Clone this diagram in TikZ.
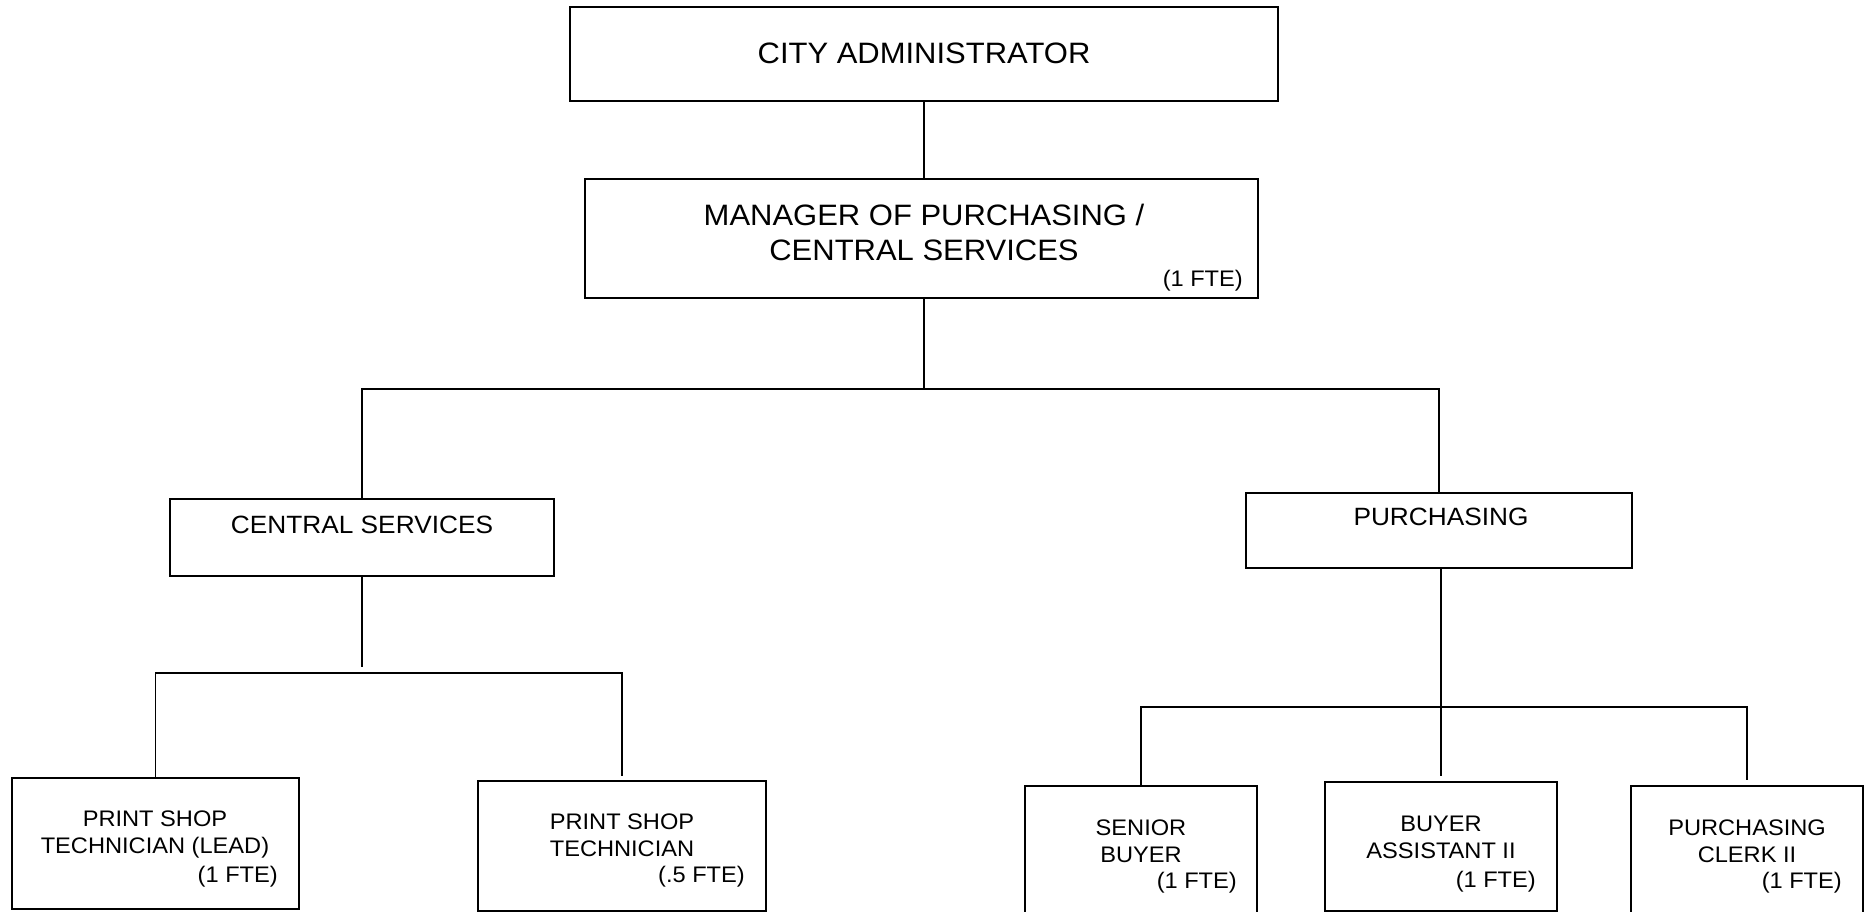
\documentclass[tikz,border=0pt]{standalone}
\usepackage{fontspec}
\setmainfont{Liberation Sans}[FakeStretch=1.05]
\usetikzlibrary{calc}

\begin{document}
\begin{tikzpicture}[x=1pt, y=-1pt,
    box/.style={draw, line width=1.6pt, inner sep=0pt},
    link/.style={line width=1.4pt},
    big/.style={font=\fontsize{29.5}{35}\selectfont, align=center, inner sep=0pt},
    mid/.style={font=\fontsize{25}{29}\selectfont, align=center, inner sep=0pt},
    small/.style={font=\fontsize{22.5}{27}\selectfont, align=center, inner sep=0pt},
    fte/.style={font=\fontsize{22.5}{27}\selectfont, anchor=east, inner sep=0pt}]
    \useasboundingbox (0,0) rectangle (1865,912);
    \clip (0,0) rectangle (1865,912);

    % top two boxes
    \node[box, minimum width=708, minimum height=94] (city) at (924,54) {};
    \node[big] (cityT) at (924,53) {CITY ADMINISTRATOR};
    \node[box, minimum width=673, minimum height=119] (mgr) at (921.5,238.5) {};
    \node[big] (mgrT) at (924,232.5) {MANAGER OF PURCHASING /\\CENTRAL SERVICES};
    \node[fte] (mgrF) at (1243,281) {(1 FTE)};

    % divisions
    \node[box, minimum width=384, minimum height=77] (cs) at (362,537.5) {};
    \node[mid] (csT) at (362,525) {CENTRAL SERVICES};
    \node[box, minimum width=386, minimum height=75] (pur) at (1439,530.5) {};
    \node[mid] (purT) at (1441,517) {PURCHASING};

    % central services staff
    \node[box, minimum width=287, minimum height=131] (ps1) at (155.5,843.5) {};
    \node[small] (ps1T) at (155,834) {PRINT SHOP\\TECHNICIAN (LEAD)};
    \node[fte] (ps1F) at (278,877) {(1 FTE)};
    \node[box, minimum width=288, minimum height=130] (ps2) at (622,846) {};
    \node[small] (ps2T) at (622,835) {PRINT SHOP\\TECHNICIAN};
    \node[fte] (ps2F) at (745,877) {(.5 FTE)};

    % purchasing staff
    \node[box, minimum width=232, minimum height=140] (sb) at (1141,856) {};
    \node[small] (sbT) at (1141,841.5) {SENIOR\\BUYER};
    \node[fte] (sbF) at (1237,883) {(1 FTE)};
    \node[box, minimum width=232, minimum height=129] (ba) at (1441,846.5) {};
    \node[small] (baT) at (1441,837.5) {BUYER\\ASSISTANT II};
    \node[fte] (baF) at (1536,882) {(1 FTE)};
    \node[box, minimum width=232, minimum height=140] (pc) at (1747,856) {};
    \node[small] (pcT) at (1747,841) {PURCHASING\\CLERK II};
    \node[fte] (pcF) at (1842,883) {(1 FTE)};

    % connectors
    \coordinate (split) at (924,389);
    \coordinate (csbar) at (362,673);
    \coordinate (purbar) at (1441,707);
    \draw[link] (city.south) -- (city.south |- mgr.north);
    \draw[link] (mgr.south -| split) -- (split);
    \draw[link] (cs.north) |- (split) -| (pur.north);
    \draw[link] (cs.south) -- ($(cs.south)+(0,90)$);
    \draw[link, shorten >=4pt] (ps1.north) |- (csbar) -| (ps2.north);
    \draw[link, shorten >=5pt] (pur.south -| ba.north) -- (ba.north);
    \draw[link, shorten >=5pt] (sb.north) |- (purbar) -| (pc.north);
\end{tikzpicture}
\end{document}
